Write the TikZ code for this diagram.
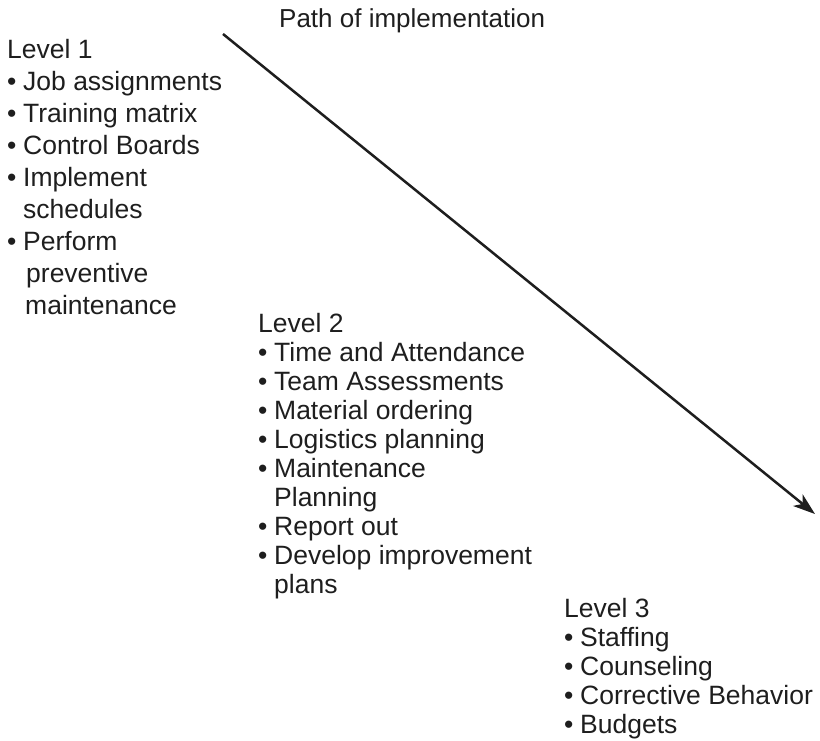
\documentclass[tikz,border=0pt]{standalone}
\usepackage{fontspec}
\setmainfont{Liberation Sans}
\usetikzlibrary{arrows.meta}
\definecolor{ink}{HTML}{1E1E1E}
\newcommand\bitem{\makebox[16pt][l]{•}}
\newcommand\bcont{\hspace*{16pt}}
\begin{document}
\begin{tikzpicture}[x=1pt,y=-1pt,
  txt/.style={text=ink, inner sep=0pt, align=left, anchor=north west},
  patharrow/.style={draw=ink, line width=2.5pt, -{Stealth[length=22pt,width=15pt,inset=6pt]}}]
\useasboundingbox (0,0) rectangle (820,741);
\node[font=\fontsize{26}{29}\selectfont, text=ink, inner sep=0pt, anchor=base west] (title) at (279,28) {Path of implementation};
\node[txt, font=\fontsize{26.5}{32}\selectfont] (l1) at (7,38.7) {Level 1\\
\bitem Job assignments\\
\bitem Training matrix\\
\bitem Control Boards\\
\bitem Implement\\
\bcont schedules\\
\bitem Perform\\
\bcont\hspace*{3pt}preventive\\
\bcont\hspace*{2pt}maintenance};
\node[txt, font=\fontsize{26.5}{29}\selectfont] (l2) at (258,312.7) {Level 2\\
\bitem Time and Attendance\\
\bitem Team Assessments\\
\bitem Material ordering\\
\bitem Logistics planning\\
\bitem Maintenance\\
\bcont Planning\\
\bitem Report out\\
\bitem Develop improvement\\
\bcont plans};
\node[txt, font=\fontsize{26.5}{29}\selectfont] (l3) at (564,597.7) {Level 3\\
\bitem Staffing\\
\bitem Counseling\\
\bitem Corrective Behavior\\
\bitem Budgets};
\coordinate (ps) at (223,34);
\coordinate (pe) at (815,514);
\draw[patharrow] (ps) -- (pe);
\end{tikzpicture}
\end{document}
